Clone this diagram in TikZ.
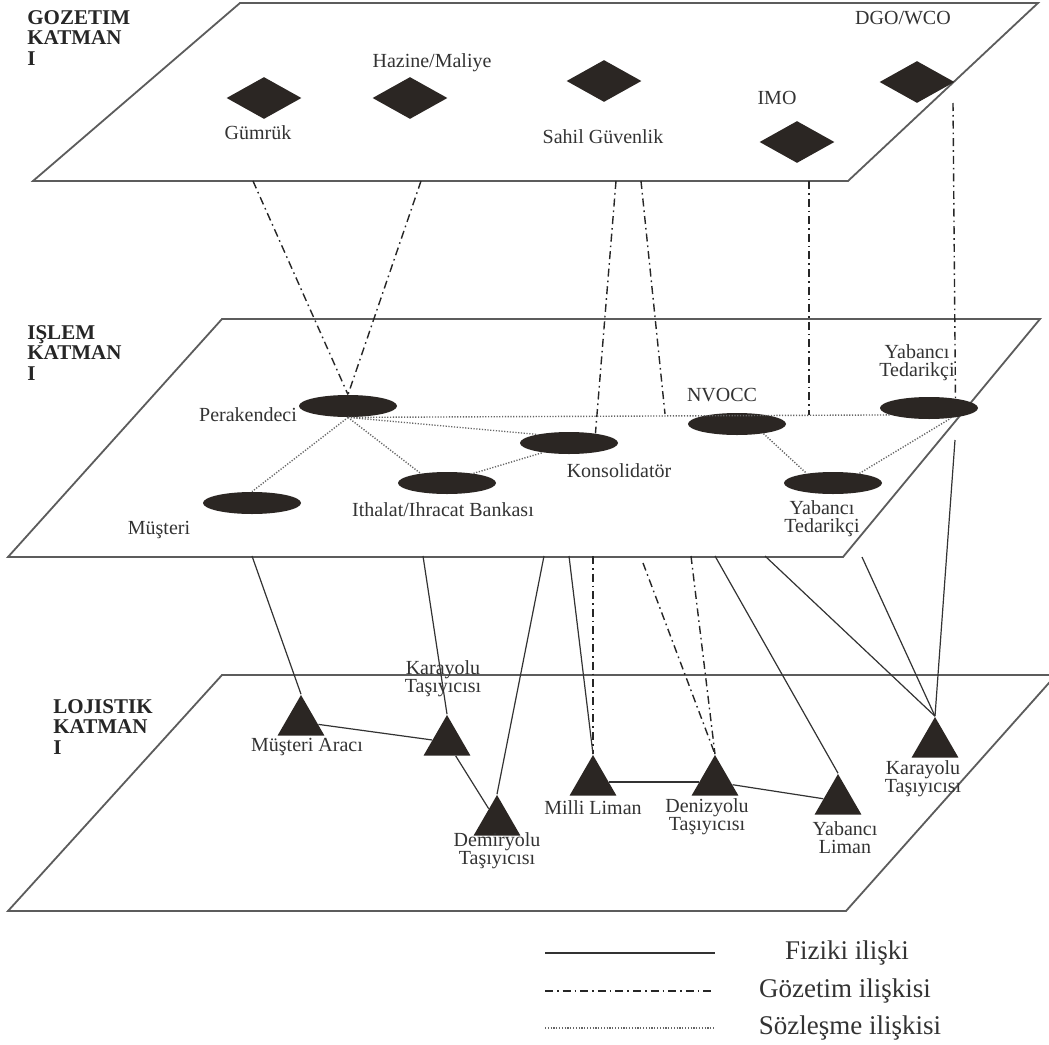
\documentclass[tikz,border=0pt]{standalone}
\usepackage{fontspec}
\setmainfont{Liberation Serif}
\usetikzlibrary{shapes.geometric}
\definecolor{koyu}{HTML}{2B2623}
\definecolor{kenar}{HTML}{5C5C5C}

\begin{document}
\begin{tikzpicture}[x=0.5pt, y=-0.5pt,
  katman/.style={draw=kenar, line width=0.9pt, fill=white},
  baslik/.style={anchor=north west, align=left, inner sep=0pt, text=black!85, font=\bfseries\fontsize{10.5}{10.2}\selectfont},
  kurum/.style={diamond, fill=koyu, minimum width=37.5pt, minimum height=21pt, inner sep=0pt},
  aktor/.style={ellipse, fill=koyu, minimum width=49pt, minimum height=11pt, inner sep=0pt},
  arac/.style={regular polygon, regular polygon sides=3, fill=koyu, minimum size=27pt, inner sep=0pt},
  etiket/.style={align=center, inner sep=0pt, text=black!80, font=\fontsize{10}{9}\selectfont},
  fizik/.style={draw=black!80, line width=0.6pt},
  gozetim/.style={draw=black!85, line width=0.7pt, dash pattern=on 4pt off 2pt on 0.8pt off 2pt},
  sozlesme/.style={draw=black!60, line width=0.7pt, dash pattern=on 0.6pt off 0.8pt},
  lejant/.style={inner sep=0pt, text=black!80, font=\fontsize{13.5}{15}\selectfont}]
\clip (0,0) rectangle (1049,1044);
\fill[white] (0,0) rectangle (1049,1044);
% Katmanlar
\path[katman] (222,675) -- (1056,675) -- (846,911) -- (8,911) -- cycle;
\path[katman] (222,319) -- (1040,319) -- (843,557) -- (8,557) -- cycle;
\path[katman] (240,3) -- (1038,3) -- (848,181) -- (33,181) -- cycle;
\node[baslik] (gozetimK) at (27,10) {GOZETIM\\KATMAN\\I};
\node[baslik] (islemK) at (27,325) {IŞLEM\\KATMAN\\I};
\node[baslik] (lojistikK) at (53,699) {LOJISTIK\\KATMAN\\I};
% Dugumler
% ---
% Gozetim
% ---
\node[kurum] (gumruk) at (264,98) {};
\node[kurum] (hazine) at (410,98) {};
\node[kurum] (sahil) at (604,81) {};
\node[kurum] (imo) at (797,142) {};
\node[kurum] (dgo) at (917,82) {};
\node[etiket] (gumrukL) at (258,133) {Gümrük};
\node[etiket] (hazineL) at (432,63) {Hazine/Maliye};
\node[etiket] (sahilL) at (603,137) {Sahil Güvenlik};
\node[etiket] (imoL) at (777,98) {IMO};
\node[etiket] (dgoL) at (903,18) {DGO/WCO};
% ---
% Islem
% ---
\node[aktor] (perak) at (348,406) {};
\node[aktor] (musteri) at (252,503) {};
\node[aktor] (ithalat) at (447,483) {};
\node[aktor] (konsol) at (569,443) {};
\node[aktor] (nvocc) at (737,424) {};
\node[aktor] (yabust) at (929,408) {};
\node[aktor] (yabalt) at (833,483) {};
\node[etiket] (perakL) at (248,415) {Perakendeci};
\node[etiket] (musteriL) at (159,530) {Müşteri};
\node[etiket] (ithalatL) at (443,510) {Ithalat/Ihracat Bankası};
\node[etiket] (konsolL) at (619,471) {Konsolidatör};
\node[etiket] (nvoccL) at (722,395) {NVOCC};
\node[etiket] (yabustL) at (917,363) {Yabancı\\Tedarikçi};
\node[etiket] (yabaltL) at (822,519) {Yabancı\\Tedarikçi};
% ---
% Lojistik
% ---
\node[arac] (marac) at (301,722) {};
\node[arac] (karsol) at (447,742) {};
\node[arac] (demir) at (497,822) {};
\node[arac] (milli) at (593,782) {};
\node[arac] (deniz) at (715,782) {};
\node[arac] (yliman) at (838,801) {};
\node[arac] (karsag) at (935,744) {};
\node[etiket] (maracL) at (307,747) {Müşteri Aracı};
\node[etiket] (karsolL) at (443,679) {Karayolu\\Taşıyıcısı};
\node[etiket] (demirL) at (497,851) {Demiryolu\\Taşıyıcısı};
\node[etiket] (milliL) at (593,808) {Milli Liman};
\node[etiket] (denizL) at (707,817) {Denizyolu\\Taşıyıcısı};
\node[etiket] (ylimanL) at (845,838) {Yabancı\\Liman};
\node[etiket] (karsagL) at (923,779) {Karayolu\\Taşıyıcısı};
% Baglantilar
% ---
% Gozetim iliskileri
% ---
\coordinate (g1) at (253,181);
\coordinate (g2) at (421,181);
\coordinate (g3) at (616,181);
\coordinate (g4) at (641,181);
\coordinate (g4b) at (665,414);
\coordinate (g5) at (809,181);
\coordinate (g5b) at (809,415);
\coordinate (g6) at (953,103);
\path (g1) edge [gozetim] (perak.north);
\path (g2) edge [gozetim] (perak.north);
\path (g3) edge [gozetim] (konsol.20);
\path (g4) edge [gozetim] (g4b);
\path (g5) edge [gozetim] (g5b);
\path (g6) edge [gozetim] (yabust.20);
\coordinate (a1) at (593,556);
\coordinate (a2) at (643,563);
\coordinate (a3) at (691,556);
\path (a1) edge [gozetim] (milli.corner 1);
\path (a2) edge [gozetim] (deniz.corner 1);
\path (a3) edge [gozetim] (deniz.corner 1);
% ---
% Sozlesme iliskileri
% ---
\path (perak.south) edge [sozlesme] (musteri.north);
\path (perak.south) edge [sozlesme] (ithalat.160);
\path (perak.south) edge [sozlesme] (konsol.165);
\path (perak.south) edge [sozlesme] (yabust.190);
\path (ithalat.20) edge [sozlesme] (konsol.200);
\path (nvocc.-20) edge [sozlesme] (yabalt.160);
\path (yabalt.20) edge [sozlesme] (yabust.-25);
% ---
% Fiziki iliskiler
% ---
\coordinate (f1) at (252,556);
\coordinate (f2) at (423,556);
\coordinate (f3) at (544,556);
\coordinate (f4) at (569,556);
\coordinate (f5) at (715,556);
\coordinate (f6) at (765,556);
\coordinate (f7) at (862,557);
\coordinate (f8) at (955,440);
\path (f1) edge [fizik] (marac.corner 1);
\path (f2) edge [fizik] (karsol.corner 1);
\path (f3) edge [fizik] (demir.corner 1);
\path (f4) edge [fizik] (milli.corner 1);
\path (f5) edge [fizik] (yliman.corner 1);
\path (f6) edge [fizik] (karsag.corner 1);
\path (f7) edge [fizik] (karsag.corner 1);
\path (f8) edge [fizik] (karsag.corner 1);
\path (marac) edge [fizik] (karsol);
\path (karsol) edge [fizik] (demir);
\path (milli) edge [fizik] (deniz);
\path (deniz) edge [fizik] (yliman);
% Lejant
\coordinate (l1a) at (545,953);
\coordinate (l1b) at (715,953);
\coordinate (l2a) at (545,991);
\coordinate (l2b) at (715,991);
\coordinate (l3a) at (545,1028);
\coordinate (l3b) at (715,1028);
\path (l1a) edge [fizik] (l1b);
\path (l2a) edge [gozetim] (l2b);
\path (l3a) edge [sozlesme] (l3b);
\node[lejant] (fizikL) at (847,953) {Fiziki ilişki};
\node[lejant] (gozetimL) at (845,991) {Gözetim ilişkisi};
\node[lejant] (sozlesmeL) at (850,1028) {Sözleşme ilişkisi};
\end{tikzpicture}
\end{document}
